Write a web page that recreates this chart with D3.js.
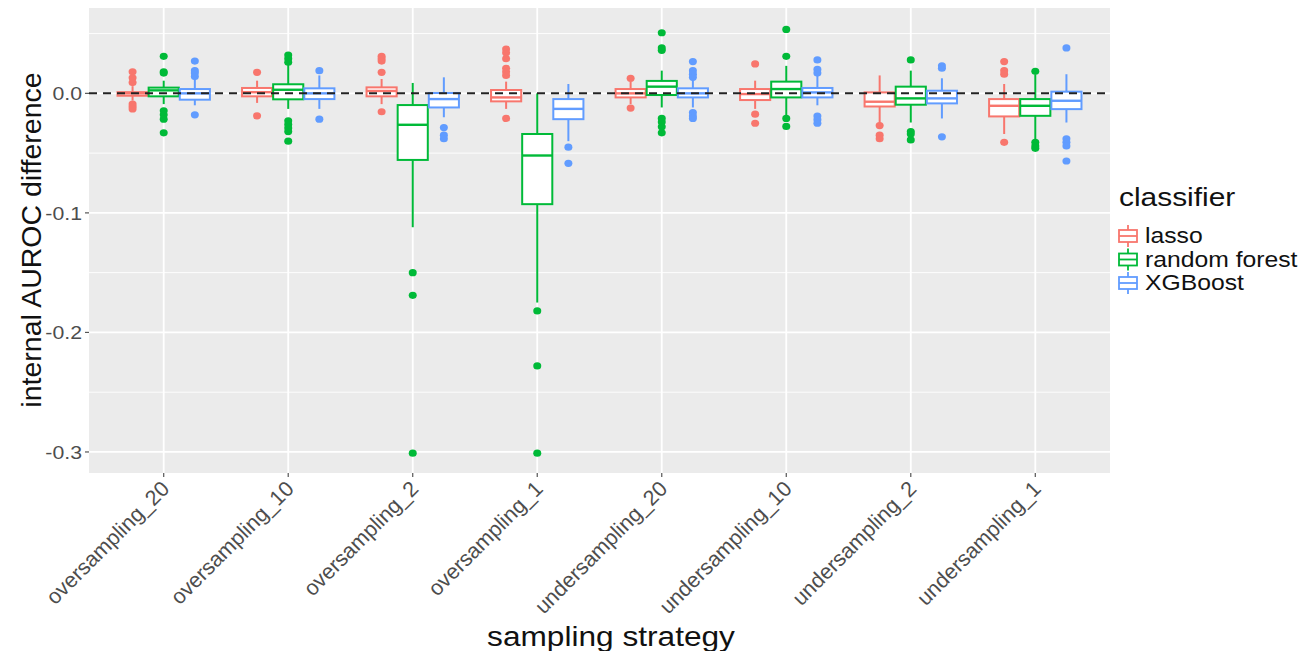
<!DOCTYPE html>
<html>
<head>
<meta charset="utf-8">
<script src="https://cdn.jsdelivr.net/npm/d3@7"></script>
<style>
  body { margin: 0; background: #fff; }
  text { font-family: "Liberation Sans", Arial, sans-serif; }
</style>
</head>
<body>
<div id="vis"></div>
<script>
// Data
const strategies = ["oversampling_20", "oversampling_10", "oversampling_2", "oversampling_1",
                    "undersampling_20", "undersampling_10", "undersampling_2", "undersampling_1"];
const classifiers = ["lasso", "random forest", "XGBoost"];
const yTicks = [0, -0.1, -0.2, -0.3];

// [lower whisker, q1, median, q3, upper whisker] per strategy
const lassoBox = [
  [-0.006, -0.002, 0.000, 0.001, 0.006],
  [-0.008, -0.0025, 0.001, 0.0045, 0.0106],
  [-0.009, -0.0025, 0.002, 0.005, 0.012],
  [-0.013, -0.0067, -0.0034, 0.0028, 0.0098],
  [-0.009, -0.0034, 0.000, 0.0036, 0.0098],
  [-0.013, -0.0056, -0.0006, 0.0036, 0.0106],
  [-0.0258, -0.011, -0.007, 0.0008, 0.015],
  [-0.034, -0.0193, -0.0104, -0.0048, 0.0078]
];
const forestBox = [
  [-0.009, -0.0025, 0.0025, 0.0048, 0.0106],
  [-0.013, -0.005, 0.003, 0.0076, 0.025],
  [-0.112, -0.0557, -0.0263, -0.0098, 0.0087],
  [-0.175, -0.0927, -0.052, -0.034, 0.0],
  [-0.0118, -0.0014, 0.0056, 0.0104, 0.019],
  [-0.0188, -0.0034, 0.0036, 0.0098, 0.023],
  [-0.0244, -0.0095, -0.0042, 0.0056, 0.019],
  [-0.041, -0.0188, -0.0104, -0.0048, 0.016]
];
const xgbBox = [
  [-0.010, -0.0053, 0.0, 0.0036, 0.012],
  [-0.013, -0.0048, 0.0, 0.0042, 0.015],
  [-0.020, -0.0118, -0.0048, 0.0003, 0.0134],
  [-0.040, -0.0216, -0.013, -0.0048, 0.0078],
  [-0.0118, -0.0034, 0.0, 0.0042, 0.012],
  [-0.010, -0.0034, 0.0008, 0.0045, 0.015],
  [-0.021, -0.0084, -0.0042, 0.0022, 0.0126],
  [-0.0244, -0.0132, -0.0062, 0.0014, 0.016]
];

const lassoOut = [
  [0.018, 0.013, 0.009, -0.009, -0.011, -0.013],
  [0.0176, -0.0188],
  [0.031, 0.029, 0.027, 0.0176, -0.0154],
  [0.037, 0.034, 0.029, 0.021, 0.018, 0.015, -0.021],
  [0.0126, -0.0123],
  [0.0246, -0.0174, -0.025],
  [-0.027, -0.035, -0.038],
  [0.0266, 0.019, 0.016, -0.041]
];
const forestOut = [
  [0.031, 0.018, 0.017, -0.0146, -0.018, -0.0216, -0.033],
  [0.032, 0.029, 0.026, -0.023, -0.026, -0.029, -0.032, -0.040],
  [-0.150, -0.169, -0.301],
  [-0.182, -0.228, -0.301],
  [0.0507, 0.038, 0.036, -0.021, -0.024, -0.028, -0.033],
  [0.0535, 0.031, -0.021, -0.0277],
  [0.028, -0.032, -0.034, -0.039],
  [0.0185, -0.041, -0.044, -0.046]
];
const xgbOut = [
  [0.027, 0.019, 0.017, 0.014, -0.018],
  [0.019, -0.0216],
  [-0.0286, -0.035, -0.038],
  [-0.045, -0.0585],
  [0.0266, 0.019, 0.016, 0.0134, -0.016, -0.019, -0.021],
  [0.028, 0.020, 0.017, -0.019, -0.022, -0.025],
  [0.023, 0.021, -0.0364],
  [0.038, -0.038, -0.041, -0.044, -0.0566]
];

const boxes = [lassoBox, forestBox, xgbBox];
const outliers = [lassoOut, forestOut, xgbOut];

// Layout
const width = 1312, height = 651;
const panel = { left: 89, right: 1110, top: 8, bottom: 473 };
const sx = 1.15; // horizontal stretch of the source picture

const color = d3.scaleOrdinal().domain(classifiers).range(["#F8766D", "#00BA38", "#619CFF"]);

const x = d3.scalePoint()
    .domain(strategies)
    .range([panel.left, panel.right])
    .padding(0.6);
const step = x.step();
const dodge = d3.scaleBand()
    .domain(classifiers)
    .range([-0.375 * step, 0.375 * step]);

const y = d3.scaleLinear()
    .domain([-0.3176, 0.0714])
    .range([panel.bottom, panel.top]);

const svg = d3.select("#vis").append("svg")
    .attr("width", width)
    .attr("height", height);

// Panel background + grid
svg.append("rect")
    .attr("x", panel.left).attr("y", panel.top)
    .attr("width", panel.right - panel.left)
    .attr("height", panel.bottom - panel.top)
    .attr("fill", "#EBEBEB");

const minor = [0.05, -0.05, -0.15, -0.25];
svg.selectAll(".minor").data(minor).enter().append("line")
    .attr("x1", panel.left).attr("x2", panel.right)
    .attr("y1", d => y(d)).attr("y2", d => y(d))
    .attr("stroke", "#fff").attr("stroke-width", 0.9);

svg.selectAll(".hmajor").data(yTicks).enter().append("line")
    .attr("x1", panel.left).attr("x2", panel.right)
    .attr("y1", d => y(d)).attr("y2", d => y(d))
    .attr("stroke", "#fff").attr("stroke-width", 1.8);

svg.selectAll(".vmajor").data(strategies).enter().append("line")
    .attr("x1", d => x(d)).attr("x2", d => x(d))
    .attr("y1", panel.top).attr("y2", panel.bottom)
    .attr("stroke", "#fff").attr("stroke-width", 1.8);

// Boxplots
const bw = dodge.bandwidth() - 1;
classifiers.forEach((c, ci) => {
    const col = color(c);
    const g = svg.append("g").attr("class", "cls");
    strategies.forEach((s, si) => {
        const cx = x(s) + dodge(c) + dodge.bandwidth() / 2;
        const b = boxes[ci][si];
        // whiskers
        g.append("line")
            .attr("x1", cx).attr("x2", cx)
            .attr("y1", y(b[0])).attr("y2", y(b[1]))
            .attr("stroke", col).attr("stroke-width", 2);
        g.append("line")
            .attr("x1", cx).attr("x2", cx)
            .attr("y1", y(b[3])).attr("y2", y(b[4]))
            .attr("stroke", col).attr("stroke-width", 2);
        g.append("rect")
            .attr("x", cx - bw / 2).attr("y", y(b[3]))
            .attr("width", bw).attr("height", Math.max(0.5, y(b[1]) - y(b[3])))
            .attr("fill", "#fff").attr("stroke", col).attr("stroke-width", 2);
        g.append("line")
            .attr("x1", cx - bw / 2).attr("x2", cx + bw / 2)
            .attr("y1", y(b[2])).attr("y2", y(b[2]))
            .attr("stroke", col).attr("stroke-width", 2.4);
        g.selectAll(".out" + si).data(outliers[ci][si]).enter().append("ellipse")
            .attr("cx", cx).attr("cy", d => y(d))
            .attr("rx", 4).attr("ry", 3.6)
            .attr("fill", col);
    });
});

// Dashed zero line
svg.append("line")
    .attr("x1", panel.left).attr("x2", panel.right)
    .attr("y1", y(0)).attr("y2", y(0))
    .attr("stroke", "#222").attr("stroke-width", 2)
    .attr("stroke-dasharray", "8,6");

// Axes ticks
svg.selectAll(".ytick").data(yTicks).enter().append("line")
    .attr("x1", panel.left - 4).attr("x2", panel.left)
    .attr("y1", d => y(d)).attr("y2", d => y(d))
    .attr("stroke", "#555").attr("stroke-width", 1.2);
svg.selectAll(".xtick").data(strategies).enter().append("line")
    .attr("x1", d => x(d)).attr("x2", d => x(d))
    .attr("y1", panel.bottom).attr("y2", panel.bottom + 4)
    .attr("stroke", "#555").attr("stroke-width", 1.2);

// Tick labels
svg.selectAll(".ylab").data(yTicks).enter().append("text")
    .attr("transform", d => "translate(" + (panel.left - 7) + "," + (y(d) + 7) + ")scale(1.12,1)")
    .attr("text-anchor", "end")
    .attr("font-size", 19)
    .attr("fill", "#4D4D4D")
    .text(d => d3.format(".1f")(d).replace("−", "-"));

svg.selectAll(".xlab").data(strategies).enter().append("text")
    .attr("transform", d => "translate(" + (x(d) + 7) + "," + (panel.bottom + 17) + ")rotate(-45)")
    .attr("text-anchor", "end")
    .attr("font-size", 21.5)
    .attr("fill", "#4D4D4D")
    .text(d => d);

// Axis titles
svg.append("text")
    .attr("transform", "translate(" + 611 + "," + 646 + ")scale(" + sx + ",1)")
    .attr("text-anchor", "middle")
    .attr("font-size", 27.5)
    .attr("fill", "#111")
    .text("sampling strategy");

svg.append("text")
    .attr("transform", "translate(" + 41 + "," + 240 + ")rotate(-90)")
    .attr("text-anchor", "middle")
    .attr("font-size", 28.5)
    .attr("fill", "#111")
    .text("internal AUROC difference");

// Legend
const legend = svg.append("g").attr("transform", "translate(1118,0)");
legend.append("text")
    .attr("transform", "translate(1,206)scale(" + sx + ",1)")
    .attr("font-size", 26)
    .attr("fill", "#111")
    .text("classifier");

const rows = legend.selectAll(".row").data(classifiers).enter().append("g")
    .attr("transform", (d, i) => "translate(0," + (236 + i * 23.5) + ")");
rows.append("line")
    .attr("x1", 10).attr("x2", 10).attr("y1", -11).attr("y2", 11)
    .attr("stroke", d => color(d)).attr("stroke-width", 1.8);
rows.append("rect")
    .attr("x", 1).attr("y", -6).attr("width", 18).attr("height", 12)
    .attr("fill", "#fff").attr("stroke", d => color(d)).attr("stroke-width", 1.8);
rows.append("line")
    .attr("x1", 1).attr("x2", 19).attr("y1", 0).attr("y2", 0)
    .attr("stroke", d => color(d)).attr("stroke-width", 1.8);
rows.append("text")
    .attr("transform", "translate(27,7)scale(" + sx + ",1)")
    .attr("font-size", 21.5)
    .attr("fill", "#111")
    .text(d => d);
</script>
</body>
</html>
